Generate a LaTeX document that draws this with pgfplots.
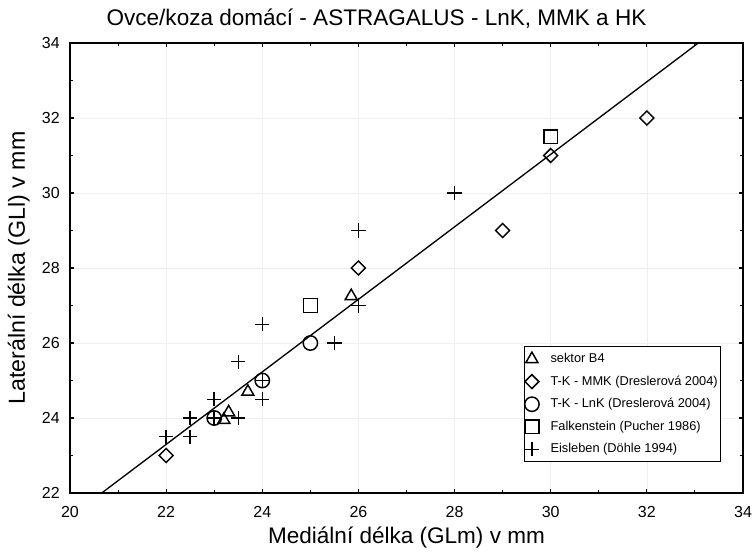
\documentclass[border=0pt]{standalone}
\usepackage{fontspec}
\setmainfont{Liberation Sans}
\usepackage{pgfplots}
\pgfplotsset{compat=1.18}

\begin{document}
\begin{tikzpicture}

\definecolor{gridgray}{RGB}{238,238,238}

\begin{axis}[
scale only axis,
width=504.75pt, height=337.5pt,
xmin=20, xmax=34, ymin=22, ymax=34,
xtick={20,22,...,34}, ytick={22,24,...,34},
minor x tick num=1, minor y tick num=1,
tick align=inside, tick pos=both,
major tick length=3pt, minor tick length=2.5pt,
every tick/.style={black, line width=0.8pt},
axis line style={line width=0.9pt},
xmajorgrids, ymajorgrids,
grid style={gridgray, line width=0.5pt},
/pgf/number format/assume math mode=true,
ticklabel style={font=\fontsize{12}{14}\selectfont},
xticklabel style={anchor=base, yshift=-18pt, inner sep=0pt},
yticklabel style={anchor=east, xshift=-7.5pt, inner sep=0pt},
every axis title shift=0pt,
title={Ovce/koza domácí - ASTRAGALUS - LnK, MMK a HK},
title style={at={(axis description cs:0.4554,1.0378)}, anchor=base, yshift=0pt, font=\fontsize{16.9}{20}\selectfont, inner sep=0pt},
xlabel={Mediální délka (GLm) v mm},
xlabel style={at={(axis description cs:0.5,-0.1111)}, anchor=base, font=\fontsize{16.9}{20}\selectfont, inner sep=0pt},
ylabel={Laterální délka (GLl) v mm},
ylabel style={at={(axis description cs:-0.0669,0.5)}, anchor=base, font=\fontsize{17.4}{20}\selectfont, inner sep=0pt},
legend style={at={(axis description cs:0.967,0.069)}, anchor=south east,
  font=\fontsize{9.6}{12}\selectfont, draw=black, line width=0.6pt,
  inner xsep=0pt, inner ysep=3pt, row sep=4.4pt},
legend cell align=left,
legend image code/.code={%
  \pgfpathmoveto{\pgfqpoint{-4.5pt}{0pt}}%
  \pgfpathlineto{\pgfqpoint{12pt}{0pt}}%
  \pgfusepath{discard}%
  \draw[#1] plot coordinates {(0pt,0pt)};},
every axis plot/.append style={line width=1.1pt},
]

\addplot [black, line width=1pt, forget plot]
coordinates {(20.66,22) (33.07,34)};

\addplot [only marks, mark=triangle, mark size=5.2pt, black]
coordinates {(23.2,23.95) (23.3,24.15) (23.7,24.7) (25.85,27.25)};
\addlegendentry{sektor B4}

\addplot [only marks, mark=square, mark size=3.7pt, black, mark options={rotate=45}]
coordinates {(22,23) (26,28) (29,29) (30,31) (32,32)};
\addlegendentry{T-K - MMK (Dreslerová 2004)}

\addplot [only marks, mark=o, mark size=5.4pt, black]
coordinates {(23,24) (24,25) (25,26)};
\addlegendentry{T-K - LnK (Dreslerová 2004)}

\addplot [only marks, mark=square, mark size=5.2pt, black]
coordinates {(25,27) (30,31.5)};
\addlegendentry{Falkenstein (Pucher 1986)}

\addplot [only marks, mark=+, mark size=5.4pt, black]
coordinates {(22,23.5) (22.5,23.5) (22.5,24) (23,24) (23,24.5) (23.5,24)
(23.5,25.5) (24,24.5) (24,25) (24,26.5) (25.5,26) (26,27) (26,29) (28,30)};
\addlegendentry{Eisleben (Döhle 1994)}

\end{axis}
\path (current axis.south west) ++(-52.5pt,-43.5pt) coordinate (bbA);
\path (current axis.north east) ++(7.5pt,32.25pt) coordinate (bbB);
\path (bbA) rectangle (bbB);
\end{tikzpicture}
\end{document}
